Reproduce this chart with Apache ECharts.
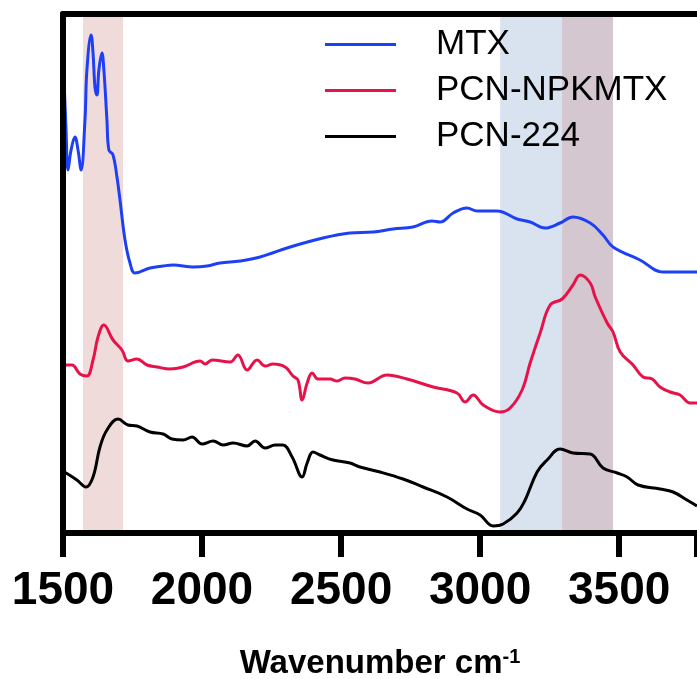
<!DOCTYPE html>
<html>
<head>
<meta charset="utf-8">
<script src="https://cdn.jsdelivr.net/npm/echarts@6/dist/echarts.min.js"></script>
<style>
  html, body { margin: 0; padding: 0; background: #fff; }
  #chart { width: 697px; height: 679px; }
</style>
</head>
<body>
<div id="chart"></div>
<script>
// FTIR spectra, values in arbitrary units (offset traces)
const mtx = [
  [1500, 480], [1511, 403], [1518, 363], [1529, 383], [1543, 396], [1554, 383],
  [1565, 363], [1579, 413], [1586, 463], [1601, 498], [1608, 480], [1615, 446],
  [1622, 438], [1629, 463], [1640, 480], [1647, 463], [1658, 413], [1665, 383],
  [1680, 378], [1694, 356], [1705, 333], [1723, 293], [1741, 270], [1759, 260],
  [1813, 265], [1860, 267], [1896, 268], [1968, 266], [2018, 267], [2065, 270],
  [2137, 272], [2209, 276], [2317, 286], [2435, 295], [2532, 300], [2615, 301],
  [2687, 304], [2759, 306], [2827, 312], [2856, 311], [2903, 320], [2953, 325],
  [2989, 322], [3061, 322], [3133, 314], [3180, 311], [3234, 305], [3288, 310],
  [3334, 316], [3396, 310], [3442, 298], [3478, 286], [3575, 273], [3658, 261],
  [3780, 261]
]

const pcnNpkMtx = [
  [1500, 168], [1532, 168], [1561, 159], [1586, 157], [1608, 173], [1626, 196],
  [1647, 208], [1680, 193], [1712, 183], [1734, 172], [1766, 174], [1802, 168],
  [1838, 166], [1885, 164], [1932, 166], [1993, 172], [2011, 169], [2036, 173],
  [2101, 171], [2129, 178], [2162, 163], [2198, 173], [2227, 167], [2255, 169],
  [2299, 166], [2327, 157], [2345, 153], [2360, 133], [2378, 150], [2396, 160],
  [2417, 154], [2460, 154], [2486, 152], [2514, 155], [2550, 154], [2597, 150],
  [2665, 158], [2737, 154], [2831, 146], [2917, 140], [2946, 131], [2975, 138],
  [3011, 128], [3072, 121], [3108, 125], [3151, 143], [3180, 170], [3216, 200],
  [3252, 228], [3295, 234], [3334, 248], [3360, 258], [3396, 250], [3414, 236],
  [3457, 210], [3478, 201], [3504, 181], [3550, 168], [3586, 156], [3619, 154],
  [3647, 146], [3683, 141], [3719, 138], [3755, 130], [3780, 130]
]

const pcn224 = [
  [1500, 61], [1511, 60], [1550, 53], [1583, 46], [1608, 56], [1633, 86],
  [1658, 103], [1698, 114], [1734, 108], [1766, 107], [1813, 101], [1860, 99],
  [1892, 94], [1932, 93], [1964, 96], [2000, 89], [2040, 92], [2076, 88],
  [2112, 90], [2162, 87], [2191, 92], [2227, 85], [2263, 88], [2291, 88],
  [2324, 76], [2360, 56], [2378, 70], [2399, 81], [2424, 78], [2471, 73],
  [2532, 70], [2568, 66], [2640, 61], [2723, 54], [2795, 46], [2881, 36],
  [2953, 24], [3000, 18], [3047, 7], [3083, 9], [3133, 20], [3162, 33],
  [3205, 61], [3241, 73], [3288, 84], [3334, 80], [3396, 79], [3442, 65],
  [3493, 60], [3529, 56], [3568, 48], [3647, 44], [3694, 41], [3744, 33],
  [3780, 27]
]

const seriesNames = ['MTX', 'PCN-NPKMTX', 'PCN-224']
const xTicks = [1500, 2000, 2500, 3000, 3500]

// highlighted wavenumber ranges
const pinkBands = [[1572, 1716], [3295, 3478]]
const blueBands = [[3072, 3478]]

const colors = {
  mtx: '#1e40f5',
  npk: '#e8124a',
  pcn: '#000000',
  pink: 'rgba(204, 136, 136, 0.3)',
  blue: '#d9e3ef'
}

const chart = echarts.init(document.getElementById('chart'))

function bandData(bands) {
  return bands.map(b => [{ xAxis: b[0] }, { xAxis: b[1] }])
}

function lineSeries(name, data, color) {
  return {
    name: name,
    type: 'line',
    data: data,
    symbol: 'none',
    smooth: 0.4,
    z: 2,
    lineStyle: { color: color, width: 3 },
    itemStyle: { color: color }
  }
}

const option = {
  animation: false,
  textStyle: { fontFamily: 'Liberation Sans, Arial, sans-serif' },
  grid: { left: 63, right: 0, top: 14, bottom: 146, outerBoundsMode: 'none', containLabel: false },
  legend: {
    data: seriesNames,
    orient: 'vertical',
    left: 325,
    top: 27,
    padding: 0,
    icon: 'rect',
    itemWidth: 71,
    itemHeight: 3,
    itemGap: 11,
    textStyle: {
      fontSize: 35,
      lineHeight: 34,
      color: '#000',
      padding: [0, 0, 0, 35]
    }
  },
  xAxis: [
    {
      type: 'value',
      min: 1500,
      max: 3780,
      interval: 500,
      z: 1.5,
      splitLine: { show: false },
      axisLine: { lineStyle: { color: '#000', width: 6 } },
      axisTick: { length: 24, lineStyle: { color: '#000', width: 6 } },
      axisLabel: {
        margin: 35,
        fontSize: 46,
        fontWeight: 'bold',
        color: '#000',
        formatter: v => (xTicks.includes(v) ? String(v) : '')
      },
      name: '{a|Wavenumber cm}{b|-1}',
      nameLocation: 'middle',
      nameGap: 114,
      nameTextStyle: {
        rich: {
          a: { fontSize: 33, fontWeight: 'bold', color: '#000' },
          b: { fontSize: 20, fontWeight: 'bold', color: '#000', verticalAlign: 'top', padding: [0, 0, 14, 0] }
        }
      }
    },
    {
      type: 'value',
      position: 'top',
      min: 1500,
      max: 3780,
      z: 10,
      splitLine: { show: false },
      axisTick: { show: false },
      axisLabel: { show: false },
      axisLine: { lineStyle: { color: '#000', width: 6 } }
    }
  ],
  yAxis: {
    type: 'value',
    min: 0,
    max: 519,
    z: 10,
    splitLine: { show: false },
    axisTick: { show: false },
    axisLabel: { show: false },
    axisLine: { show: true, lineStyle: { color: '#000', width: 6 } }
  },
  series: [
    {
      type: 'line',
      data: [],
      z: 1,
      silent: true,
      markArea: { silent: true, itemStyle: { color: colors.blue }, data: bandData(blueBands) }
    },
    lineSeries(seriesNames[0], mtx, colors.mtx),
    lineSeries(seriesNames[1], pcnNpkMtx, colors.npk),
    lineSeries(seriesNames[2], pcn224, colors.pcn),
    {
      type: 'line',
      data: [],
      z: 5,
      silent: true,
      markArea: { silent: true, itemStyle: { color: colors.pink }, data: bandData(pinkBands) }
    }
  ]
}

chart.setOption(option)
</script>
</body>
</html>
